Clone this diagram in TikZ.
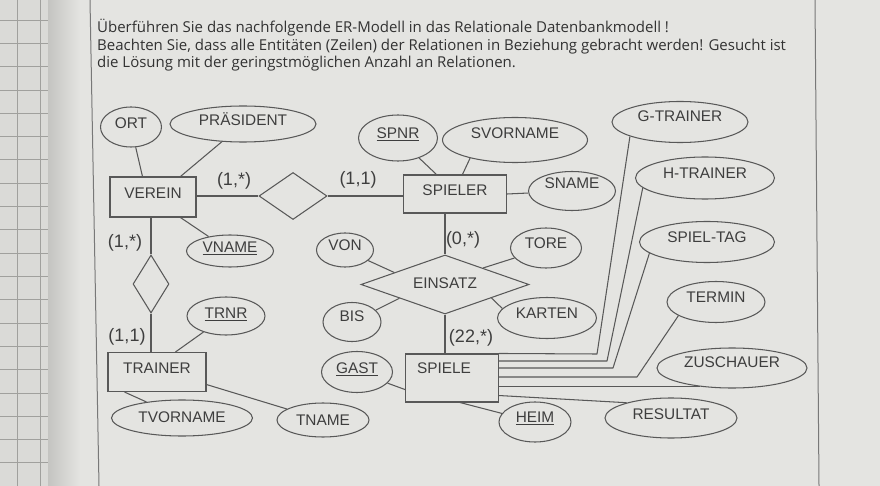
\documentclass[tikz,border=0pt]{standalone}
\usepackage{fontspec}
\setmainfont{Liberation Sans}
\newfontfamily\headfont{Open Sans}
\usetikzlibrary{shapes.geometric,calc}
\definecolor{pagec}{RGB}{228,228,225}
\definecolor{gridc}{RGB}{218,218,215}
\definecolor{shadowc}{RGB}{196,196,193}
\definecolor{gridl}{RGB}{160,160,157}
\definecolor{linec}{RGB}{88,88,88}
\definecolor{txtc}{RGB}{62,62,62}
\definecolor{headc}{RGB}{50,50,50}
\definecolor{framec}{RGB}{120,120,120}
\begin{document}
\begin{tikzpicture}[x=1pt,y=-1pt,
  every node/.style={text=txtc, font=\fontsize{15.4}{18}\selectfont},
  sz/.style 2 args={minimum width=#1pt, minimum height=#2pt},
  tup/.style={text height=11pt, text depth=#1},
  entity/.style={draw=linec, line width=1.05pt, rectangle, inner sep=0pt},
  attr/.style={draw=linec, line width=1.05pt, ellipse, inner sep=0pt},
  rel/.style={draw=linec, line width=1.05pt, diamond, inner sep=0pt},
  conn/.style={draw=linec, line width=1.05pt, line join=round},
  card/.style={inner sep=0pt, font=\fontsize{18}{20}\selectfont},
  head/.style={anchor=base west, inner sep=0pt, text=headc, font=\headfont\fontsize{15}{17.5}\selectfont},
]
\useasboundingbox (0,0) rectangle (880,486);
% background: page, grid paper, frame
\fill[pagec] (0,0) rectangle (880,486);
\fill[gridc] (0,0) rectangle (48,486);
\shade[left color=shadowc, right color=pagec] (48,0) rectangle (80,486);
\foreach \gy in {20,43.3,...,486} \draw[draw=gridl, line width=0.6pt] (0,\gy) -- (48,\gy);
\foreach \gx in {17,40} \draw[draw=gridl, line width=0.6pt] (\gx,0) -- (\gx,486);
\draw[draw=framec, line width=1pt] (90,0) -- (99,486);
\draw[draw=framec, line width=1pt] (815,0) -- (819,486);

% heading
\node[head] (t1) at (97,33) {Überführen Sie das nachfolgende ER-Modell in das Relationale Datenbankmodell !};
\node[head] (t2) at (97,51) {Beachten Sie, dass alle Entitäten (Zeilen) der Relationen in Beziehung gebracht werden! Gesucht ist};
\node[head] (t3) at (97,68) {die Lösung mit der geringstmöglichen Anzahl an Relationen.};

% entities
\node[entity, sz={86}{40}, tup=8pt] (verein) at (153,197) {VEREIN};
\node[entity, sz={103}{38}, tup=8pt] (spieler) at (455,194) {SPIELER};
\node[entity, sz={98}{39}, tup=8pt] (trainer) at (157,372) {TRAINER};
\node[entity, sz={93}{48}, tup=20pt] (spiele) at (452,378) {SPIELE\hspace*{16pt}};

% relationships
\node[rel, sz={68}{47}] (d1) at (293,196) {};
\node[rel, sz={36}{58}] (d2) at (151,284) {};
\node[rel, sz={168}{59}, aspect=2.85, tup=3pt] (einsatz) at (445,284.5) {EINSATZ};

% attributes
\node[attr, sz={61}{40}, tup=8pt] (ort) at (131,127) {ORT};
\node[attr, sz={146}{36}, tup=8pt] (praes) at (243,124) {PRÄSIDENT};
\node[attr, sz={87}{32}, tup=8pt] (vname) at (230,251) {\underline{VNAME}};
\node[attr, sz={79}{46}, tup=10pt] (spnr) at (398,138) {\underline{SPNR}};
\node[attr, sz={145}{45}, tup=14pt] (svorname) at (515,140) {SVORNAME};
\node[attr, sz={87}{39}, tup=16pt] (sname) at (572,191) {SNAME};
\node[attr, sz={57}{34}, tup=10pt] (von) at (345,250) {VON};
\node[attr, sz={71}{40}, tup=10pt] (tore) at (546,248) {TORE};
\node[attr, sz={58}{39}, tup=12pt] (bis) at (352,322) {BIS};
\node[attr, sz={99}{41}, tup=10pt] (karten) at (547,318) {KARTEN};
\node[attr, sz={71}{41}, tup=8pt] (gast) at (357,372) {\underline{GAST}};
\node[attr, sz={72}{40}, tup=10pt] (heim) at (535,422) {\underline{HEIM}};
\node[attr, sz={132}{40}, tup=8pt] (resultat) at (671,418) {RESULTAT};
\node[attr, sz={150}{40}, tup=12pt] (zuschauer) at (732,368) {ZUSCHAUER};
\node[attr, sz={98}{41}, tup=10pt] (termin) at (716,302) {TERMIN};
\node[attr, sz={136}{41}, tup=12pt] (gtrainer) at (680,122) {G-TRAINER};
\node[attr, sz={139}{42}, tup=10pt] (htrainer) at (705,178) {H-TRAINER};
\node[attr, sz={135}{41}, tup=10pt] (spieltag) at (707,242) {SPIEL-TAG};
\node[attr, sz={78}{38}, tup=6pt] (trnr) at (226,316) {\underline{TRNR}};
\node[attr, sz={141}{36}, tup=2pt] (tvorname) at (182,418) {TVORNAME};
\node[attr, sz={92}{34}, tup=0pt] (tname) at (323,420) {TNAME};

% cardinalities
\node[card] (c1) at (234,181) {(1,*)};
\node[card] (c2) at (358,180) {(1,1)};
\node[card] (c3) at (125,243) {(1,*)};
\node[card] (c4) at (127,337) {(1,1)};
\node[card] (c5) at (463,240) {(0,*)};
\node[card] (c6) at (471,338) {(22,*)};

% relationship connectors
\draw[conn] (verein.east |- d1.west) -- (d1.west);
\draw[conn] (d1.east) -- (d1.east -| spieler.west);
\draw[conn] (d2.north |- verein.south) -- (d2.north);
\draw[conn] (d2.south) -- (d2.south |- trainer.north);
\draw[conn] (einsatz.north |- spieler.south) -- (einsatz.north);
\draw[conn] (einsatz.south) -- (einsatz.south |- spiele.north);

% attribute connectors
\draw[conn] (ort) -- ($(verein.north west)+(33,0)$);
\draw[conn] (praes) -- ($(verein.north west)+(71,0)$);
\draw[conn] (vname) -- ($(verein.south west)+(71,0)$);
\draw[conn] (spnr) -- ($(spieler.north west)+(33.5,0)$);
\draw[conn] (svorname.202) -- ($(spieler.north west)+(59.5,0)$);
\draw[conn] (spieler.east) -- (sname);
\draw[conn] (tore) -- ($(einsatz.north)!0.45!(einsatz.east)$);
\draw[conn] (von) -- ($(einsatz.west)!0.4!(einsatz.north)$);
\draw[conn] (bis) -- ($(einsatz.west)!0.46!(einsatz.south)$);
\draw[conn] (karten.168) -- ($(einsatz.south)!0.55!(einsatz.east)$);
\draw[conn] (gast) -- ($(spiele.south west)+(0,-13)$);
\draw[conn] (heim) -- ($(spiele.south west)+(55,0)$);
\draw[conn] (trnr) -- ($(trainer.north west)+(68,0)$);
\draw[conn] (tvorname) -- ($(trainer.south west)+(17,0)$);
\draw[conn] (tname) -- ($(trainer.south east)+(0,-7.5)$);

% SPIELE attribute lines
\coordinate (b1) at (597,354);
\coordinate (b2) at (607,361);
\coordinate (b3) at (613,368);
\coordinate (b4) at (637,377);
\draw[conn] (spiele.north east) -- (b1) -- (gtrainer.196);
\draw[conn] (spiele.east |- b2) -- (b2) -- (htrainer.189);
\draw[conn] (spiele.east |- b3) -- (b3) -- (spieltag.191);
\draw[conn] (spiele.east |- b4) -- (b4) -- (termin.200);
\draw[conn] (spiele.east |- zuschauer.210) -- (zuschauer.210);
\draw[conn] ($(spiele.south east)+(0,-7)$) -- (resultat.161);
\end{tikzpicture}
\end{document}
